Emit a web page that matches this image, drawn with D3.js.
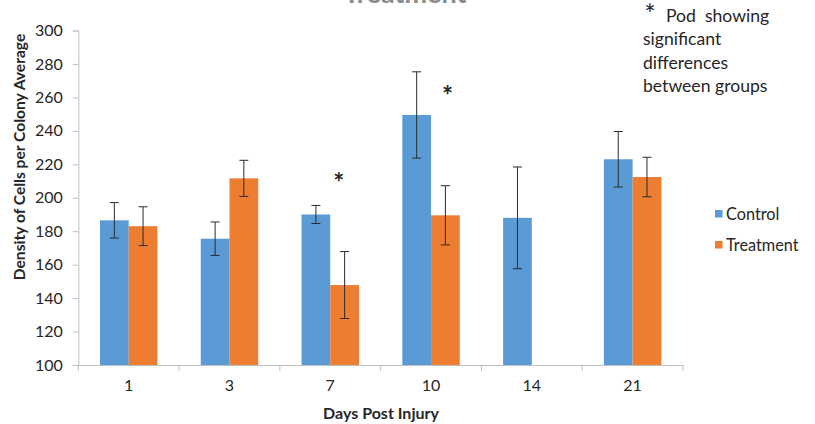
<!DOCTYPE html>
<html><head><meta charset="utf-8">
<script src="https://cdn.jsdelivr.net/npm/d3@7"></script>
<style>
html,body{margin:0;padding:0;background:#fff;}
svg{display:block;}
text{font-family:Lato,"Open Sans",sans-serif;fill:#262626;}
</style></head><body>
<svg id="chart" width="815" height="424"></svg>
<script>
const days = ["1","3","7","10","14","21"];
const seriesNames = ["Control","Treatment"];
const controlValues = [186.5, 175.5, 190, 249.5, 188, 223];
const controlErrors = [10.6, 10, 5.4, 25.8, 30.4, 16.6];
const treatmentValues = [183, 211.6, 147.8, 189.5, null, 212.4];
const treatmentErrors = [11.6, 10.8, 20, 17.7, null, 11.8];
const yTicks = [100,120,140,160,180,200,220,240,260,280,300];
const significantDays = ["7","10"];
const significantY = [211, 263];
const noteLines = ["Pod  showing","significant","differences","between groups"];
const titleText = "Treatment";
const xTitle = "Days Post Injury";
const yTitle = "Density of Cells per Colony Average";
const colors = {Control:"#5B9BD5", Treatment:"#ED7D31"};

const svg = d3.select("#chart");
const mLeft = 78.3, mRight = 683, mTop = 30.5, mBottom = 365;

const x = d3.scaleBand().domain(days).range([mLeft, mRight]).paddingInner(0.43).paddingOuter(0.215);
const x1 = d3.scaleBand().domain(seriesNames).range([0, x.bandwidth()]);
const y = d3.scaleLinear().domain([100, 300]).range([mBottom, mTop]);

const rows = [];
days.forEach((d,i)=>{
  rows.push({day:d, s:"Control", v:controlValues[i], e:controlErrors[i]});
  if (treatmentValues[i] != null) rows.push({day:d, s:"Treatment", v:treatmentValues[i], e:treatmentErrors[i]});
});

// title (cut off at the top edge, as in the reference)
svg.append("text").attr("x", 405).attr("y", 2.5).attr("text-anchor","middle")
  .style("font-size","27px").style("font-weight","bold").style("fill","#8c8c8c").text(titleText);

// y axis
const yAxis = svg.append("g").attr("transform",`translate(${mLeft},0)`)
  .call(d3.axisLeft(y).tickValues(yTicks).tickSize(5.5).tickPadding(10).tickFormat(d3.format("d")));
yAxis.select(".domain").attr("stroke","#bfbfbf");
yAxis.selectAll(".tick line").attr("stroke","#bfbfbf");
yAxis.selectAll("text").style("font-size","16px").style("fill","#262626").style("font-family","Lato");

// bars
svg.append("g").selectAll("rect").data(rows).join("rect")
  .attr("x", d => x(d.day) + x1(d.s))
  .attr("width", x1.bandwidth())
  .attr("y", d => y(d.v))
  .attr("height", d => y(100) - y(d.v))
  .attr("fill", d => colors[d.s]);

// error bars
const eb = svg.append("g").attr("stroke","#2b2b2b").attr("stroke-width",1);
rows.forEach(d=>{
  const cx = x(d.day) + x1(d.s) + x1.bandwidth()/2;
  eb.append("line").attr("x1",cx).attr("x2",cx).attr("y1",y(d.v+d.e)).attr("y2",y(d.v-d.e));
  eb.append("line").attr("x1",cx-4.5).attr("x2",cx+4.5).attr("y1",y(d.v+d.e)).attr("y2",y(d.v+d.e));
  eb.append("line").attr("x1",cx-4.5).attr("x2",cx+4.5).attr("y1",y(d.v-d.e)).attr("y2",y(d.v-d.e));
});

// x axis
const xAxis = svg.append("g").attr("transform",`translate(0,${mBottom})`)
  .call(d3.axisBottom(x).tickSize(0).tickPadding(15));
xAxis.select(".domain").attr("stroke","#bfbfbf");
xAxis.selectAll("text").style("font-size","16px").style("fill","#262626").style("font-family","Lato");
// category separators
const edges = days.map(d => x(d) - x.step()*0.215).concat([mRight]);
svg.append("g").selectAll("line").data(edges).join("line")
  .attr("x1", d=>d).attr("x2", d=>d).attr("y1", mBottom).attr("y2", mBottom+6)
  .attr("stroke","#bfbfbf");

// significance asterisks (text boxes floating above the treatment bars)
const starShift = [8.5, 16.5];
significantDays.forEach((d,i)=>{
  svg.append("text").attr("x", x(d) + x1("Treatment") + starShift[i]).attr("y", y(significantY[i]) + 13)
    .attr("text-anchor","middle")
    .style("font-size","26px").style("font-weight","bold").text("*");
});

// axis titles
svg.append("text").attr("x", 381).attr("y", 419).attr("text-anchor","middle")
  .style("font-size","16px").style("font-weight","bold").text(xTitle);
svg.append("text").attr("transform","translate(25,157) rotate(-90)").attr("text-anchor","middle")
  .style("font-size","15.6px").style("font-weight","bold").text(yTitle);

// legend
const lg = svg.append("g");
seriesNames.forEach((s,i)=>{
  const yy = 210 + i*31;
  lg.append("rect").attr("x",715).attr("y",yy).attr("width",7.5).attr("height",7.5).attr("fill",colors[s]);
  lg.append("text").attr("x",726).attr("y",yy+4).attr("dy","0.35em").style("font-size","16.3px").text(s);
});

// note
svg.append("text").attr("x",650).attr("y",24).attr("text-anchor","middle").style("font-size","27px").text("*");
noteLines.forEach((t,i)=>{
  svg.append("text").attr("x", i===0 ? 666 : 643).attr("y", 22 + i*23.3)
    .style("font-size","17.6px").attr("xml:space","preserve").text(t);
});
</script></body></html>
